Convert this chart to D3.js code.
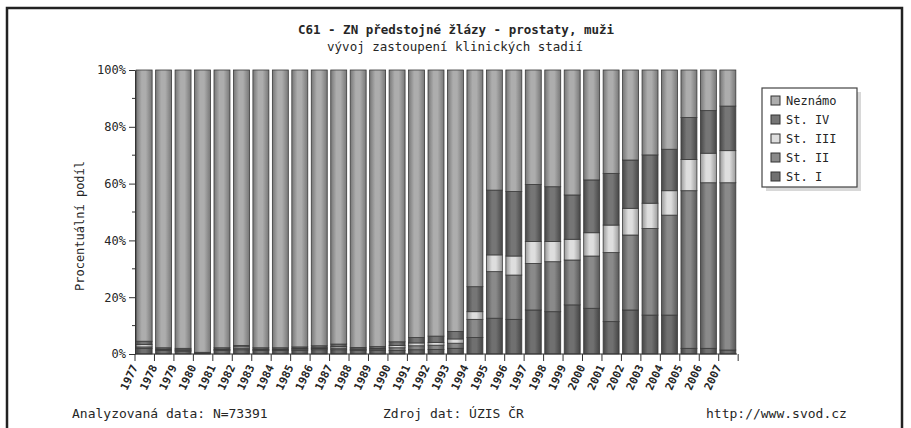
<!DOCTYPE html>
<html>
<head>
<meta charset="utf-8">
<script src="https://cdn.jsdelivr.net/npm/d3@7"></script>
<style>
  body { margin: 0; background: #fff; }
  text { font-family: "DejaVu Sans Mono", monospace; fill: #262626; }
</style>
</head>
<body>
<div id="chart"></div>
<script>
// categories
var years = d3.range(1977, 2008).map(String);

// series values (% of cases per year)
var stI     = [2.0, 1.2, 1.0, 0.3, 1.2, 1.5, 1.2, 1.2, 1.3, 1.5, 1.5, 1.2, 1.3, 1.2, 1.5, 1.6, 2.0, 5.8, 12.6, 12.2, 15.5, 14.9, 17.3, 16.1, 11.4, 15.5, 13.7, 13.7, 2.0, 2.0, 1.4];
var stII    = [0.5, 0.3, 0.3, 0.1, 0.3, 0.4, 0.3, 0.3, 0.4, 0.4, 0.6, 0.4, 0.4, 1.0, 1.4, 1.5, 1.8, 6.4, 16.4, 15.6, 16.4, 17.6, 15.8, 18.4, 24.3, 26.4, 30.5, 35.2, 55.5, 58.3, 58.9];
var stIII   = [0.8, 0.2, 0.2, 0.1, 0.2, 0.6, 0.2, 0.2, 0.3, 0.3, 0.5, 0.2, 0.3, 0.8, 1.0, 1.0, 1.5, 2.7, 5.9, 6.7, 7.7, 7.1, 7.3, 8.2, 9.7, 9.4, 8.9, 8.6, 11.0, 10.4, 11.3];
var stIV    = [1.2, 0.5, 0.5, 0.1, 0.5, 0.5, 0.5, 0.5, 0.5, 0.7, 0.9, 0.5, 0.6, 1.3, 1.9, 2.2, 2.6, 8.8, 22.8, 22.7, 20.1, 19.3, 15.6, 18.6, 18.2, 17.0, 17.0, 14.6, 14.8, 15.0, 15.7];
var neznamo = [95.5, 97.8, 98.0, 99.4, 97.8, 97.0, 97.8, 97.8, 97.5, 97.1, 96.5, 97.7, 97.4, 95.7, 94.2, 93.7, 92.1, 76.3, 42.3, 42.8, 40.3, 41.1, 44.0, 38.7, 36.4, 31.7, 29.9, 27.9, 16.7, 14.3, 12.7];

// tick labels
var yTicks = [0, 20, 40, 60, 80, 100];
var yMinorTicks = [10, 30, 50, 70, 90];

var seriesNames = ["St. I", "St. II", "St. III", "St. IV", "Neznámo"];
var seriesKeys = ["s1", "s2", "s3", "s4", "s5"];

var table = years.map(function(y, i) {
  return { year: y, s1: stI[i], s2: stII[i], s3: stIII[i], s4: stIV[i], s5: neznamo[i] };
});

drawChart("#chart");

function drawChart(sel) {
  var width = 911, height = 428;
  var margin = { left: 135, right: 174, top: 70, bottom: 74 };
  var plotW = width - margin.left - margin.right;
  var plotH = height - margin.top - margin.bottom;

  var svg = d3.select(sel).append("svg")
    .attr("width", width)
    .attr("height", height);

  // shading colours (centre, edge)
  var shades = {
    s1: ["#707070", "#444444"],
    s2: ["#8a8a8a", "#575757"],
    s3: ["#dedede", "#9a9a9a"],
    s4: ["#767676", "#474747"],
    s5: ["#adadad", "#777777"]
  };

  var defs = svg.append("defs");
  seriesKeys.forEach(function(k) {
    var g = defs.append("linearGradient").attr("id", "grad-" + k)
      .attr("x1", "0%").attr("x2", "100%").attr("y1", "0%").attr("y2", "0%");
    g.append("stop").attr("offset", "0%").attr("stop-color", shades[k][1]);
    g.append("stop").attr("offset", "35%").attr("stop-color", shades[k][0]);
    g.append("stop").attr("offset", "60%").attr("stop-color", shades[k][0]);
    g.append("stop").attr("offset", "100%").attr("stop-color", shades[k][1]);
  });

  // outer frame
  svg.append("rect")
    .attr("x", 7).attr("y", 8)
    .attr("width", 895).attr("height", 440)
    .attr("fill", "#fff")
    .attr("stroke", "#222")
    .attr("stroke-width", 2.5);

  var x = d3.scaleBand()
    .domain(years)
    .range([0, plotW])
    .paddingInner(0.18)
    .paddingOuter(0.06);

  var y = d3.scaleLinear()
    .domain([0, 100])
    .range([plotH, 0]);

  var stack = d3.stack().keys(seriesKeys);
  var layers = stack(table);

  var g = svg.append("g")
    .attr("transform", "translate(" + margin.left + "," + margin.top + ")");

  g.selectAll(".layer")
    .data(layers)
    .enter()
    .append("g")
    .attr("class", "layer")
    .attr("fill", function(d) { return "url(#grad-" + d.key + ")"; })
    .selectAll("rect")
    .data(function(d) { return d; })
    .enter()
    .append("rect")
    .attr("x", function(d) { return x(d.data.year); })
    .attr("y", function(d) { return y(d[1]); })
    .attr("width", x.bandwidth())
    .attr("height", function(d) { return y(d[0]) - y(d[1]); })
    .attr("stroke", "#3a3a3a")
    .attr("stroke-width", 0.8);

  // y axis
  var yAxis = d3.axisLeft(y)
    .tickValues(yTicks)
    .tickSize(6)
    .tickPadding(3)
    .tickFormat(function(d) { return d + "%"; });

  var ya = g.append("g").call(yAxis);
  ya.select(".domain").attr("stroke", "#333");
  ya.selectAll(".tick line").attr("stroke", "#333");
  ya.selectAll("text").style("font-size", "12px").attr("fill", "#262626");

  g.selectAll(".minor")
    .data(yMinorTicks)
    .enter()
    .append("line")
    .attr("class", "minor")
    .attr("x1", -3).attr("x2", 0)
    .attr("y1", function(d) { return y(d); })
    .attr("y2", function(d) { return y(d); })
    .attr("stroke", "#333");

  // x axis: ticks at band boundaries
  var xa = g.append("g").attr("transform", "translate(0," + plotH + ")");
  xa.append("line")
    .attr("x1", 0).attr("x2", plotW)
    .attr("stroke", "#333").attr("stroke-width", 1.2);
  var step = x.step();
  xa.selectAll(".xt")
    .data(d3.range(years.length + 1))
    .enter()
    .append("line")
    .attr("class", "xt")
    .attr("x1", function(i) { return i * step; })
    .attr("x2", function(i) { return i * step; })
    .attr("y1", 0).attr("y2", 7)
    .attr("stroke", "#333");

  xa.selectAll(".xl")
    .data(years)
    .enter()
    .append("text")
    .attr("class", "xl")
    .attr("text-anchor", "end")
    .attr("transform", function(d) {
      return "translate(" + (x(d) + x.bandwidth() / 2 - 6) + ",13) rotate(-65)";
    })
    .style("font-size", "11px")
    .style("font-weight", "bold")
    .text(function(d) { return d; });

  // y axis title
  svg.append("text")
    .attr("transform", "translate(84,226) rotate(-90)")
    .attr("text-anchor", "middle")
    .style("font-size", "12px")
    .text("Procentuální podíl");

  // titles
  svg.append("text")
    .attr("x", 456).attr("y", 34)
    .attr("text-anchor", "middle")
    .style("font-size", "12.5px")
    .style("font-weight", "bold")
    .text("C61 - ZN předstojné žlázy - prostaty, muži");

  svg.append("text")
    .attr("x", 455).attr("y", 51)
    .attr("text-anchor", "middle")
    .style("font-size", "12.5px")
    .text("vývoj zastoupení klinických stadií");

  // legend
  var lg = svg.append("g").attr("transform", "translate(762,88)");
  lg.append("rect").attr("x", 4).attr("y", 4).attr("width", 95).attr("height", 99).attr("fill", "#d8d8d8");
  lg.append("rect").attr("x", 0).attr("y", 0).attr("width", 95).attr("height", 99)
    .attr("fill", "#fff").attr("stroke", "#444").attr("stroke-width", 1.2);

  var legendKeys = seriesKeys.slice().reverse();
  var legendNames = seriesNames.slice().reverse();
  var items = lg.selectAll(".li")
    .data(legendKeys)
    .enter()
    .append("g")
    .attr("class", "li")
    .attr("transform", function(d, i) { return "translate(9," + (8 + i * 19) + ")"; });
  items.append("rect")
    .attr("width", 9).attr("height", 9)
    .attr("fill", function(d) { return shades[d][0]; })
    .attr("stroke", "#333");
  items.append("text")
    .attr("x", 15).attr("y", 9)
    .style("font-size", "12px")
    .text(function(d, i) { return legendNames[i]; });

  // footer
  svg.append("text").attr("x", 72).attr("y", 418).style("font-size", "13px").text("Analyzovaná data: N=73391");
  svg.append("text").attr("x", 383).attr("y", 418).style("font-size", "13px").text("Zdroj dat: ÚZIS ČR");
  svg.append("text").attr("x", 706).attr("y", 418).style("font-size", "13px").text("http://www.svod.cz");
}
</script>
</body>
</html>
